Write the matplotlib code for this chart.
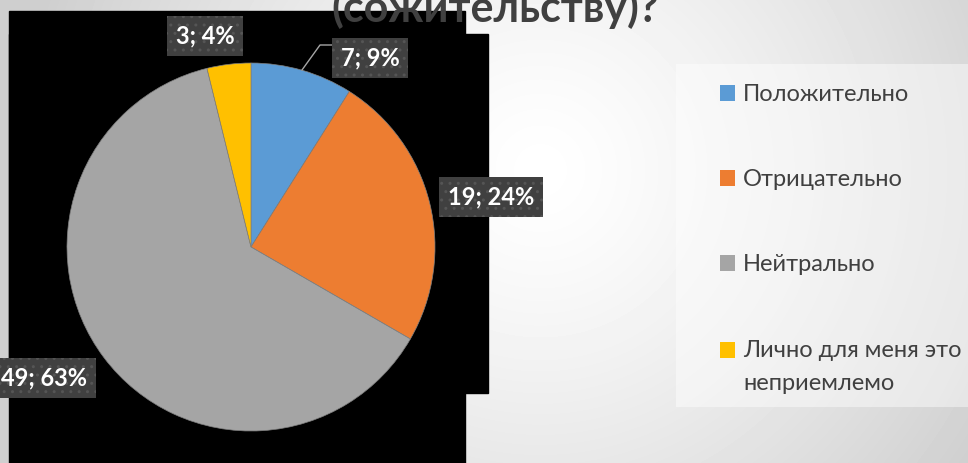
import matplotlib
matplotlib.use("Agg")
import matplotlib.pyplot as plt
import numpy as np
from matplotlib.patches import Rectangle
from matplotlib.legend_handler import HandlerPatch

plt.rcParams['font.family'] = ['Lato', 'DejaVu Sans']

categories = ['Положительно', 'Отрицательно', 'Нейтрально', 'Лично для меня это\nнеприемлемо']
counts = [7, 19, 49, 3]
colors = ['#5b9bd5', '#ed7d31', '#a5a5a5', '#ffc000']
title = '(сожительству)?'

W, H = 968, 463
fig = plt.figure(figsize=(W / 100, H / 100), dpi=100)
ax = fig.add_axes([0, 0, 1, 1])

# slide background: soft grey gradient, lighter in the middle
yy, xx = np.mgrid[0:H, 0:W]
d = np.sqrt((xx - 540) ** 2 + (yy - 170) ** 2)
bg = 255 - 48 * np.clip(d / 520, 0, 1) ** 1.3
ax.imshow(bg, cmap='gray', vmin=0, vmax=255, extent=[0, W, H, 0], zorder=0)

# black chart area pieces
ax.add_patch(Rectangle((9, 11), 456, 452, color='black', zorder=1))
ax.add_patch(Rectangle((9, 34), 479, 359, color='black', zorder=1))
# legend area
ax.add_patch(Rectangle((676, 64), 292, 343, facecolor='white', alpha=0.45, lw=0, zorder=1))

wedges, _ = ax.pie(counts, colors=colors, startangle=-90, counterclock=True,
                   center=(251, 247), radius=184,
                   wedgeprops=dict(edgecolor='#7f7f7f', linewidth=0.5, zorder=2))

total = sum(counts)
label_pos = [(370, 58), (491, 197), (44, 378), (205, 36)]
for v, (lx, ly) in zip(counts, label_pos):
    ax.text(lx, ly, f"{v}; {round(v * 100 / total)}%", color='white', fontsize=17,
            fontweight='bold', ha='center', va='center', zorder=5,
            bbox=dict(boxstyle='square,pad=0.38', facecolor='#404040',
                      edgecolor='#555555', hatch='..', linewidth=0))
ax.plot([302, 320, 332], [70, 45, 45], color='#a6a6a6', lw=1, zorder=3)

ax.text(495, 22, title, fontsize=31, fontweight='bold', color='#404040',
        ha='center', va='baseline', zorder=6)


# square legend marks; the two-line entry gets its mark next to the first line
def square(legend, orig_handle, xdescent, ydescent, width, height, fontsize):
    shift = 12.2 if orig_handle is wedges[-1] else 0
    return Rectangle((-xdescent, -ydescent + shift), width, height)


leg = ax.legend(wedges, categories, loc='upper left', bbox_to_anchor=(720 / W, 1 - 84 / H),
                frameon=False, fontsize=17, labelcolor='#404040',
                borderpad=0, borderaxespad=0,
                handlelength=0.64, handleheight=0.64, handletextpad=0.34,
                labelspacing=2.72,
                handler_map={w: HandlerPatch(patch_func=square) for w in wedges})
for t in leg.get_texts():
    t.set_linespacing(1.75)
for p in leg.get_patches():
    p.set_edgecolor('none')

ax.set_xlim(0, W)
ax.set_ylim(H, 0)
ax.set_aspect('auto')
ax.axis('off')
fig.savefig('out.png', dpi=100)
